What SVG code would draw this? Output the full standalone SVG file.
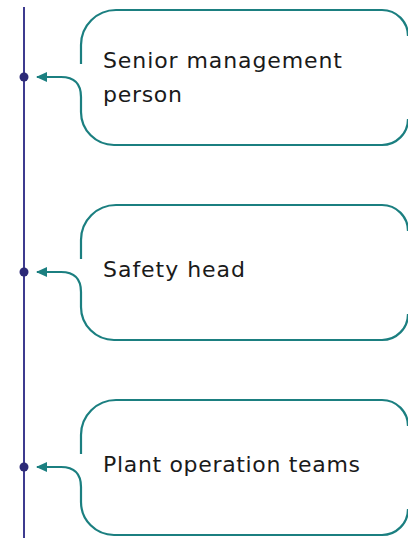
<svg xmlns="http://www.w3.org/2000/svg" width="408" height="538" viewBox="0 0 408 538">
<defs>
<style>
.box{fill:none;stroke:#1b7f80;stroke-width:2.2;}
.conn{fill:none;stroke:#1b7f80;stroke-width:2.2;}
.tl{fill:none;stroke:#3e3b8f;stroke-width:2;}
.dot{fill:#2d2a78;}
.lbl{font-family:"DejaVu Sans","Liberation Sans",sans-serif;font-size:22px;fill:#1a1a1a;}
</style>
<marker id="ah" markerWidth="12" markerHeight="10" refX="1" refY="5" orient="auto" markerUnits="userSpaceOnUse">
<path d="M0,5 L11,0 L11,10 Z" fill="#1b7f80"/>
</marker>
</defs>
<line class="tl" x1="24" y1="7" x2="24" y2="538"/>
<g id="connectors">
<path class="conn" marker-start="url(#ah)" d="M37 77 L61 77 C74 77 81 84 81 97 L81 112"/>
<path class="conn" marker-start="url(#ah)" d="M37 272 L61 272 C74 272 81 279 81 292 L81 307"/>
<path class="conn" marker-start="url(#ah)" d="M37 467 L61 467 C74 467 81 474 81 487 L81 502"/>
</g>
<g id="node1">
<circle class="dot" cx="24" cy="77" r="4.5"/>
<path class="box" d="M81 64 L81 45 A35 35 0 0 1 116 10 L382 10 A26 26 0 0 1 408 36 M408 119 A26 26 0 0 1 382 145 L114 145 A33 33 0 0 1 81 112"/>
<text class="lbl" x="103" y="68" textLength="239" lengthAdjust="spacing">Senior management</text>
<text class="lbl" x="103" y="102" textLength="79" lengthAdjust="spacing">person</text>
</g>
<g id="node2">
<circle class="dot" cx="24" cy="272" r="4.5"/>
<path class="box" d="M81 259 L81 240 A35 35 0 0 1 116 205 L382 205 A26 26 0 0 1 408 231 M408 314 A26 26 0 0 1 382 340 L114 340 A33 33 0 0 1 81 307"/>
<text class="lbl" x="103" y="277" textLength="142" lengthAdjust="spacing">Safety head</text>
</g>
<g id="node3">
<circle class="dot" cx="24" cy="467" r="4.5"/>
<path class="box" d="M81 454 L81 435 A35 35 0 0 1 116 400 L382 400 A26 26 0 0 1 408 426 M408 509 A26 26 0 0 1 382 535 L114 535 A33 33 0 0 1 81 502"/>
<text class="lbl" x="103" y="472" textLength="257" lengthAdjust="spacing">Plant operation teams</text>
</g>
</svg>
